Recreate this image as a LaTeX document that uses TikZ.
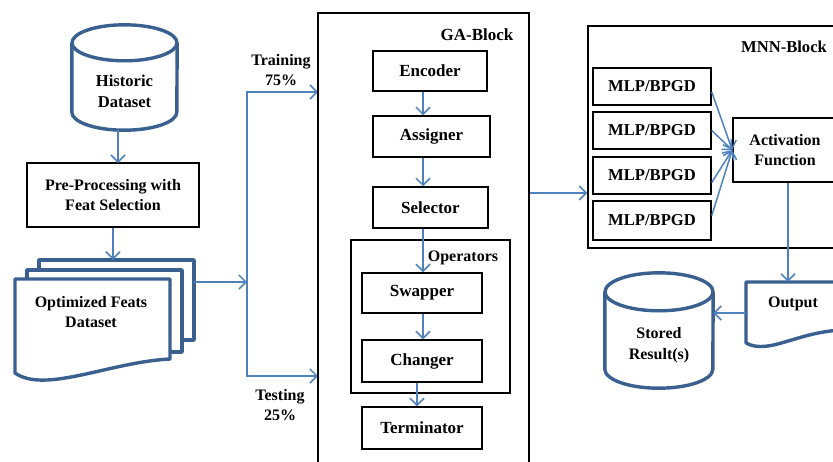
\documentclass[tikz,border=0pt]{standalone}
\usepackage{fontspec}
\setmainfont{Liberation Serif}
\usetikzlibrary{arrows.meta,calc}
\definecolor{connblue}{RGB}{79,129,189}
\definecolor{shapeblue}{RGB}{58,96,143}
\begin{document}
\begin{tikzpicture}[x=1pt,y=1pt,
  every node/.style={font=\bfseries\fontsize{16}{20.5}\selectfont, align=center, inner sep=0pt},
  big/.style={font=\bfseries\fontsize{17}{20.5}\selectfont},
  mid/.style={font=\bfseries\fontsize{16.6}{20.5}\selectfont},
  box/.style={draw=black, line width=1.5pt, rectangle},
  frame/.style={draw=black, line width=1.3pt, rectangle},
  ghost/.style={rectangle},
  conn/.style={draw=connblue, line width=1.5pt, -{Straight Barb[length=7pt,width=14pt,line width=1.5pt]}},
  shp/.style={draw=shapeblue, line width=3.4pt, line join=round}]
\useasboundingbox (0,0) rectangle (833,-461);
\clip (0,0) rectangle (833,-461);
\fill[white] (0,0) rectangle (833,-461);

% ---------- left column ----------
\node[ghost, minimum width=105pt, minimum height=105pt] (hist) at (124.5,-77.5) {};
\draw[shp] ($(hist.north west)+(0,-18)$) -- ($(hist.south west)+(0,18)$)
  arc[start angle=180, end angle=360, x radius=52.5, y radius=18]
  -- ($(hist.north east)+(0,-18)$);
\draw[shp] ($(hist.north)+(0,-18)$) ellipse [x radius=52.5, y radius=18];
\node[mid] (histtxt) at (124.5,-91.5) {Historic\\Dataset};

\node[box, minimum width=172pt, minimum height=64pt] (prep) at (113,-195) {Pre-Processing with\\Feat Selection};

\node[ghost, minimum width=179pt, minimum height=122pt] (optstack) at (104.5,-321) {};
\draw[shp] (39,-270) -- (39,-260) -- (194,-260) -- (194,-340) -- (182,-340);
\draw[shp] (27,-279) -- (27,-270) -- (182,-270) -- (182,-352) -- (170,-352);
\draw[shp] (15,-279) -- (170,-279) -- (170,-359)
  .. controls (110,-362) and (45,-394) .. (15,-373) -- cycle;
\node (opttxt) at (91,-312) {Optimized Feats\\Dataset};

\coordinate (hA) at (118,-163);
\draw[conn] (hA |- hist.south) -- (hA);
\draw[conn] (prep.south) -- (prep.south |- optstack.north);

% ---------- split ----------
\coordinate (split) at (247,-282);
\coordinate (tr) at (318,-92);
\coordinate (te) at (318,-376);
\draw[conn] (split -| optstack.east) -- (split);
\draw[conn] (split) |- (tr);
\draw[conn] (split) |- (te);
\node (trlab) at (281,-70) {Training\\75\%};
\node (telab) at (280,-405) {Testing\\25\%};

% ---------- GA block ----------
\node[frame, minimum width=211pt, minimum height=457pt] (ga) at (423.5,-241.5) {};
\node[big] (galab) at (477,-35) {GA-Block};
\node[box, big, minimum width=114pt, minimum height=40pt] (enc) at (430,-71) {Encoder};
\node[box, big, minimum width=117pt, minimum height=41pt] (asg) at (431.5,-136.5) {Assigner};
\node[box, big, minimum width=115pt, minimum height=41pt] (sel) at (430.5,-207.5) {Selector};
\node[frame, minimum width=159pt, minimum height=153pt] (ops) at (430.5,-316.5) {};
\node (opslab) at (463,-258) {Operators};
\node[box, big, minimum width=120pt, minimum height=40pt] (swp) at (422,-293) {Swapper};
\node[box, big, minimum width=120pt, minimum height=42pt] (chg) at (422,-361) {Changer};
\node[box, big, minimum width=120pt, minimum height=42pt] (term) at (422,-428) {Terminator};

\coordinate (cA) at (423,0);
\coordinate (cB) at (417,0);
\draw[conn] (enc.south -| cA) -- (asg.north -| cA);
\draw[conn] (asg.south -| cA) -- (sel.north -| cA);
\draw[conn] (sel.south -| cA) -- (swp.north -| cA);
\draw[conn] (swp.south -| cA) -- (chg.north -| cA);
\draw[conn] (chg.south -| cB) -- (term.north -| cB);

% ---------- MNN block ----------
\node[frame, minimum width=257pt, minimum height=222pt] (mnn) at (716.5,-137) {};
\node[mid] (mnnlab) at (784,-47) {MNN-Block};
\node[box, mid, minimum width=118pt, minimum height=37pt] (mlpa) at (652,-86.5) {MLP/BPGD};
\node[box, mid, minimum width=118pt, minimum height=37pt] (mlpb) at (652,-130.5) {MLP/BPGD};
\node[box, mid, minimum width=118pt, minimum height=37pt] (mlpc) at (652,-175.5) {MLP/BPGD};
\node[box, mid, minimum width=118pt, minimum height=39pt] (mlpd) at (652,-220.5) {MLP/BPGD};
\node[box, minimum width=104pt, minimum height=64pt] (act) at (785,-150) {Activation\\Function};

\coordinate (gm) at (0,-193);
\draw[conn] (ga.east |- gm) -- (mnn.west |- gm);
\draw[conn] ($(mlpa.east)+(0,-5.5)$) -- (act.west);
\draw[conn] (mlpb.east) -- (act.west);
\draw[conn] ($(mlpc.east)+(0,-7)$) -- (act.west);
\draw[conn] ($(mlpd.east)+(0,5)$) -- (act.west);

% ---------- output / stored ----------
\node[ghost, minimum width=94pt, minimum height=65pt] (out) at (793,-314.5) {};
\draw[shp] (850,-282) -- (746,-282) -- (746,-343)
  .. controls (770,-356) and (800,-329) .. (850,-330);
\node (outtxt) at (793,-304) {Output};

\node[ghost, minimum width=108pt, minimum height=115pt] (stored) at (659,-330.5) {};
\draw[shp] ($(stored.north west)+(0,-19)$) -- ($(stored.south west)+(0,19)$)
  arc[start angle=180, end angle=360, x radius=54, y radius=19]
  -- ($(stored.north east)+(0,-19)$);
\draw[shp] ($(stored.north)+(0,-19)$) ellipse [x radius=54, y radius=19];
\node (storedtxt) at (659,-345) {Stored\\Result(s)};

\coordinate (oc) at (788,0);
\coordinate (sc) at (0,-313);
\draw[conn] (act.south -| oc) -- (out.north -| oc);
\draw[conn] (out.west |- sc) -- (stored.east |- sc);
\end{tikzpicture}
\end{document}
